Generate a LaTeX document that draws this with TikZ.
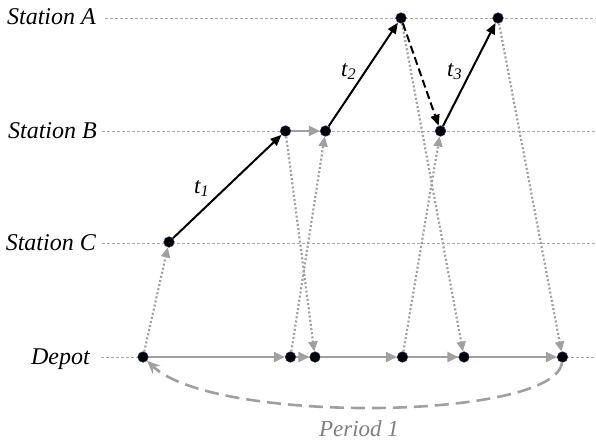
\documentclass[tikz,border=0pt]{standalone}
\usepackage{fontspec}
\setmainfont{Liberation Serif}
\usetikzlibrary{arrows.meta}
\definecolor{gridc}{RGB}{170,170,170}
\definecolor{conn}{RGB}{160,160,160}
\definecolor{lblc}{RGB}{128,128,128}
\definecolor{rim}{RGB}{30,50,110}
\begin{document}
\begin{tikzpicture}[x=1pt,y=-1pt,
  dot/.style={circle,fill=black,draw=rim,line width=0.6pt,inner sep=0pt,minimum size=10.5pt},
  gridline/.style={draw=gridc,line width=0.9pt,dash pattern=on 3pt off 2pt},
  rowlabel/.style={anchor=base east,font=\fontsize{24}{28}\selectfont\itshape,inner sep=0pt},
  triplabel/.style={anchor=base west,font=\fontsize{23}{26}\selectfont\itshape,inner sep=0pt},
  trip/.style={-{Triangle[length=11pt,width=9pt]},line width=2pt,draw=black},
  deadhead/.style={trip,dash pattern=on 8pt off 4pt},
  flow/.style={-{Triangle[length=11pt,width=10pt]},line width=2pt,draw=conn},
  pull/.style={-{Triangle[length=10pt,width=9pt]},line width=2.2pt,draw=conn,dash pattern=on 2pt off 2.2pt},
  period/.style={-{Stealth[length=13pt,width=11pt]},line width=2.6pt,draw=conn,dash pattern=on 14pt off 7pt},
]
\useasboundingbox (0,0) rectangle (596,444);

% grid lines
\coordinate (gA0) at (105,18);  \coordinate (gA1) at (596,18);
\coordinate (gB0) at (102,131); \coordinate (gB1) at (596,131);
\coordinate (gC0) at (102,243); \coordinate (gC1) at (596,243);
\coordinate (gD0) at (101,357); \coordinate (gD1) at (596,357);
\draw[gridline] (gA0) -- (gA1);
\draw[gridline] (gB0) -- (gB1);
\draw[gridline] (gC0) -- (gC1);
\draw[gridline] (gD0) -- (gD1);

% row labels
\node[rowlabel] (lA) at (96,25) {Station A};
\node[rowlabel] (lB) at (97,138) {Station B};
\node[rowlabel] (lC) at (96,250) {Station C};
\node[rowlabel] (lD) at (90,364) {Depot};

% nodes
\node[dot] (D1) at (143,357) {};
\node[dot] (D2) at (290.5,357) {};
\node[dot] (D3) at (315,357) {};
\node[dot] (D4) at (402.5,357) {};
\node[dot] (D5) at (464,357) {};
\node[dot] (D6) at (562.5,357) {};
\node[dot] (C1) at (169,242) {};
\node[dot] (B1) at (285.5,131) {};
\node[dot] (B2) at (325.5,131) {};
\node[dot] (B3) at (440.5,131) {};
\node[dot] (A1) at (401,18) {};
\node[dot] (A2) at (498,18) {};

% dotted pull-out / pull-in
\draw[pull] (D1) -- (C1);
\draw[pull] (B1) -- (D3);
\draw[pull] (D2) -- (B2);
\draw[pull] (A1) -- (D5);
\draw[pull] (D4) -- (B3);
\draw[pull] (A2) -- (D6);

% depot flow
\draw[flow] (D1) -- (D2);
\draw[flow] (D2) -- (D3);
\draw[flow] (D3) -- (D4);
\draw[flow] (D4) -- (D5);
\draw[flow] (D5) -- (D6);
\draw[flow] (B1) -- (B2);

% trips
\draw[trip] (C1) -- (B1);
\draw[trip] (B2) -- (A1);
\draw[trip] (B3) -- (A2);
\draw[deadhead] (A1) -- (B3);

\node[triplabel] (t1) at (194,193) {t\textsubscript{1}};
\node[triplabel] (t2) at (341,76) {t\textsubscript{2}};
\node[triplabel] (t3) at (447,76) {t\textsubscript{3}};

% period
\draw[period] (D6) .. controls (556,420) and (215,425) .. (D1);
\node[anchor=base,font=\fontsize{23}{26}\selectfont\itshape,text=lblc,inner sep=0pt] (per) at (359,436) {Period 1};
\end{tikzpicture}
\end{document}
